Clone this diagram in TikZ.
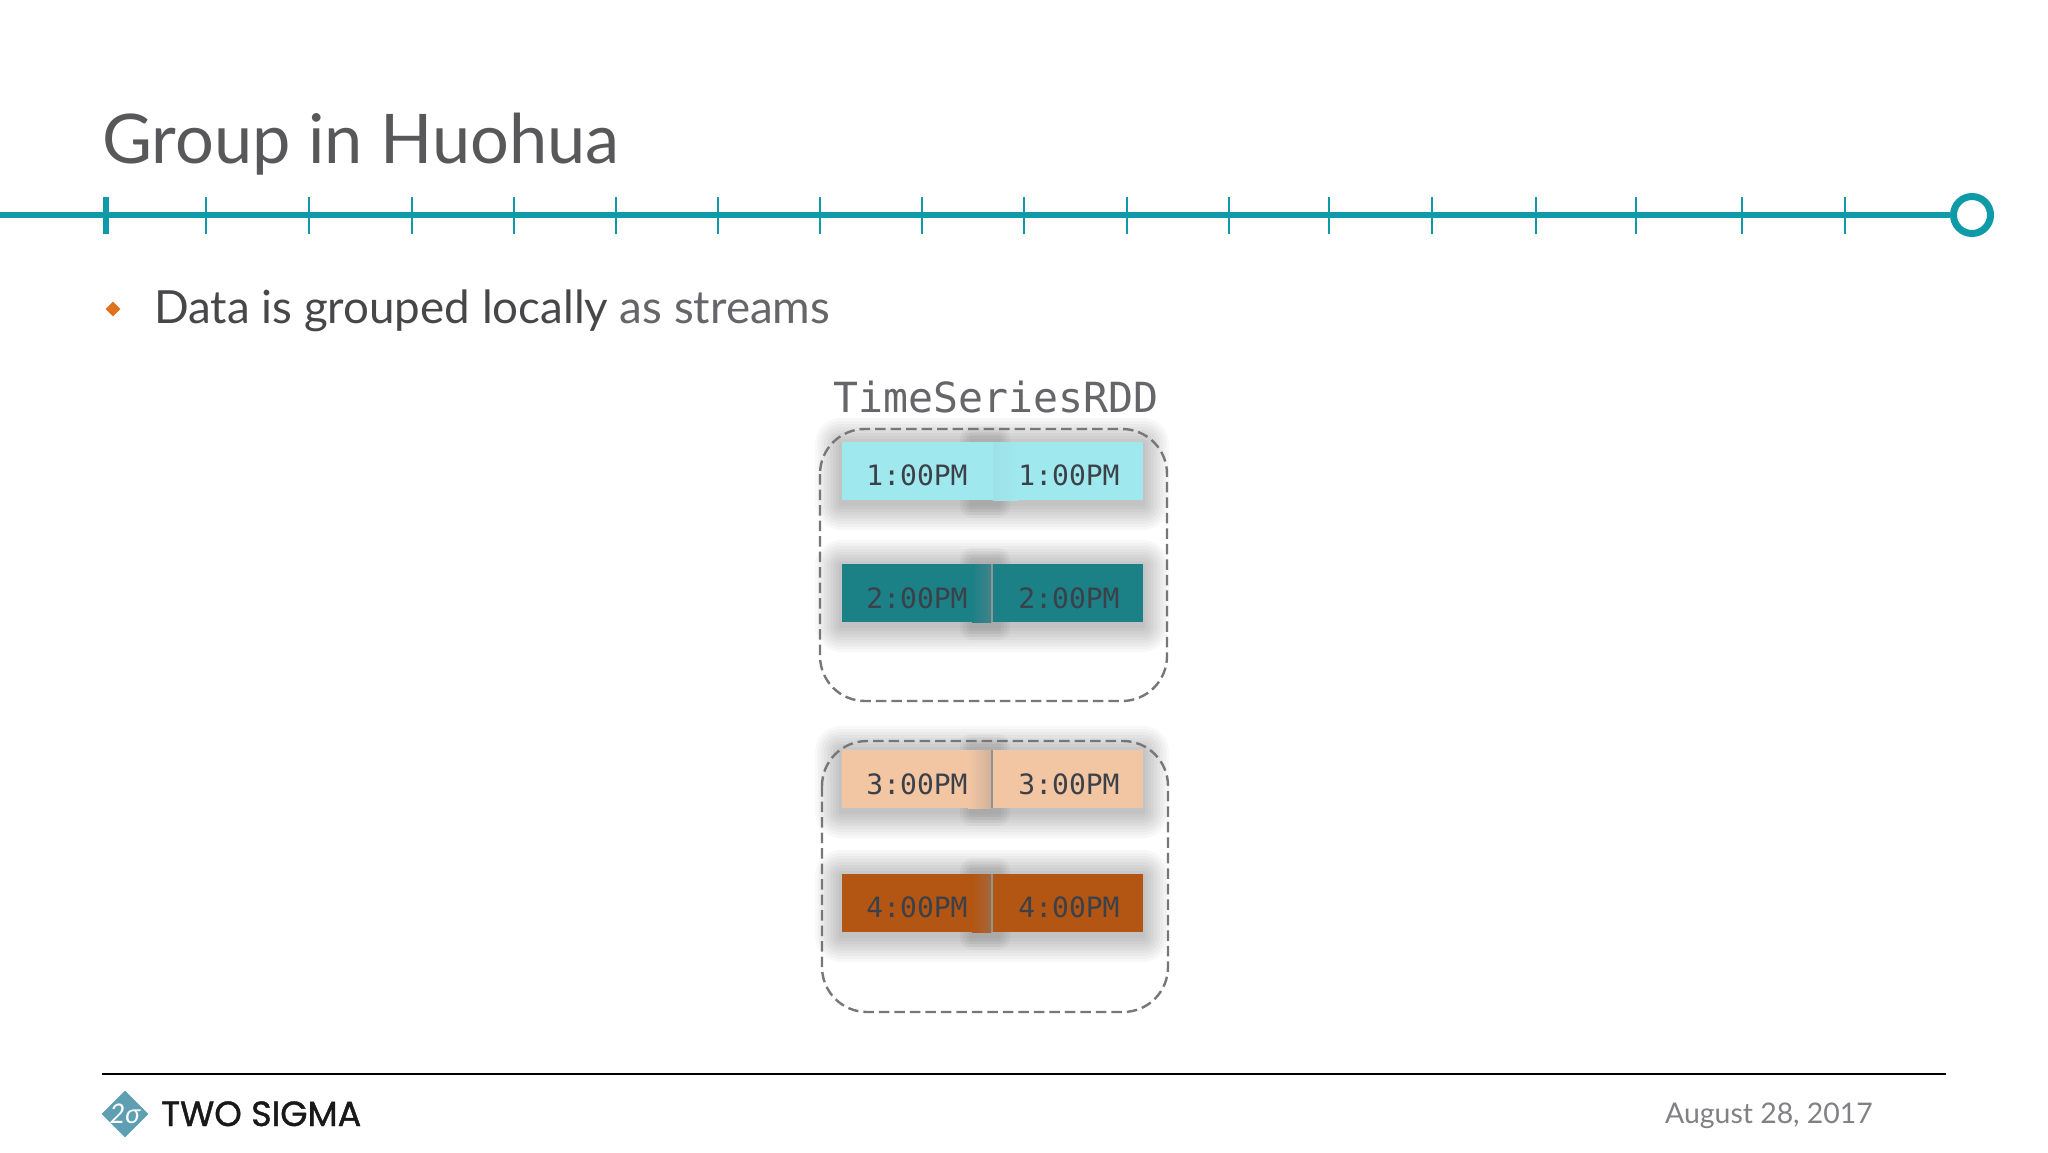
\documentclass[tikz,border=0pt]{standalone}
\usepackage{fontspec}
\setmainfont{Lato}
\setmonofont{DejaVu Sans Mono}
\newfontfamily\brandfont[FakeBold=1.2]{Poppins}
\usetikzlibrary{shapes.geometric}
\definecolor{teal1}{HTML}{0E9AA7}
\definecolor{titlegray}{HTML}{58585A}
\definecolor{bodygray}{HTML}{47474A}
\definecolor{lightgray1}{HTML}{65656A}
\definecolor{dategray}{HTML}{808085}
\definecolor{dashgray}{HTML}{77777A}
\definecolor{shadegray}{HTML}{8A8A8A}
\definecolor{gapgray}{HTML}{8F9496}
\definecolor{cA}{HTML}{9FE8EE}
\definecolor{cB}{HTML}{1C8087}
\definecolor{cC}{HTML}{F3C6A3}
\definecolor{cD}{HTML}{B35613}
\definecolor{monotext}{HTML}{3C4048}
\definecolor{orange1}{HTML}{E0711D}
\definecolor{logoblue}{HTML}{5E9FB2}
\tikzset{
 x=1pt,y=-1pt,
 tick/.style={draw=teal1,line width=1.6pt},
 dashbox/.style={draw=dashgray,line width=2.4pt,dash pattern=on 10.5pt off 5pt,rounded corners=45pt},
 cell/.style={minimum width=0pt,inner sep=0pt,font=\ttfamily\fontsize{28}{28}\selectfont,text=monotext},
 plain/.style={inner sep=0pt,anchor=base west}
}
% blurred shadow: stacked translucent rectangles
\newcommand{\softshadow}[4]{%
 \foreach \g in {26,23,20,17,14,11,8,5,2}{
  \fill[black,opacity=0.027,rounded corners=\g pt] (#1-\g-1,#2-\g+2) rectangle (#3+\g,#4+\g+4);
 }}
\newcommand{\softcolumn}[2]{%
 \foreach \g in {12,9,6,3}{
  \fill[black,opacity=0.03,rounded corners=\g pt] (972-\g,#1-\g-4) rectangle (998+\g,#2+\g+6);
 }}
% y0, y1, colour
\newcommand{\cellpair}[3]{%
 \softshadow{842}{#1}{1143}{#2}
 \softcolumn{#1}{#2}
 \fill[#3] (842,#1) rectangle (991,#2);
 \fill[#3] (993,#1) rectangle (1143,#2);
}
\begin{document}
\begin{tikzpicture}
\useasboundingbox (0,0) rectangle (2048,1152);
\fill[white] (0,0) rectangle (2048,1152);
% title and rule
\node[plain,text=titlegray,font=\fontsize{68.5}{68.5}\selectfont] (title) at (102,163) {Group in Huohua};
\coordinate (linestart) at (0,215);
\node[circle,draw=teal1,line width=7pt,fill=white,minimum size=37pt,inner sep=0pt] (endc) at (1972,215) {};
\draw[teal1,line width=6pt] (linestart) -- (endc.west);
\draw[teal1,line width=6.5pt] (106,197) -- (106,234);
\foreach \t in {206,309,412,514,616,718,820,922,1024,1127,1229,1329,1432,1536,1636,1742,1845}{
 \draw[tick] (\t,197) -- (\t,234);
}
% bullet
\node[diamond,fill=orange1,minimum size=15pt,inner sep=0pt] (bullet) at (113,309) {};
\node[plain,font=\fontsize{45.7}{45.7}\selectfont] (bodytext) at (154,323) {\textcolor{bodygray}{Data is grouped locally} \textcolor{lightgray1}{as streams}};
% group label
\node[inner sep=0pt,anchor=base,font=\ttfamily\fontsize{41.5}{41.5}\selectfont,text=lightgray1] (rddlabel) at (996,412) {TimeSeriesRDD};
% cells
\cellpair{442}{500}{cA}
\cellpair{564}{622}{cB}
\cellpair{750}{808}{cC}
\cellpair{874}{932}{cD}
% neighbour's shadow falling across each pair
\fill[cA] (991,442) rectangle (993,500);
\shade[left color=cA!93!shadegray,right color=cA] (993,442) rectangle (1018,500);
\shade[left color=cB,right color=cB!68!shadegray] (972,564) rectangle (991,622);
\shade[left color=cC,right color=cC!68!shadegray] (968,750) rectangle (991,808);
\shade[left color=cD,right color=cD!68!shadegray] (972,874) rectangle (991,932);
\fill[gapgray] (991,564) rectangle (993,622);
\fill[gapgray] (991,750) rectangle (993,808);
\fill[gapgray] (991,874) rectangle (993,932);
% labels
\node[cell,anchor=base] (al) at (917,485) {1:00PM};
\node[cell,anchor=base] (ar) at (1069,485) {1:00PM};
\node[cell,anchor=base] (bl) at (917,608) {2:00PM};
\node[cell,anchor=base] (br) at (1069,608) {2:00PM};
\node[cell,anchor=base] (cl) at (917,794) {3:00PM};
\node[cell,anchor=base] (cr) at (1069,794) {3:00PM};
\node[cell,anchor=base] (dl) at (917,917) {4:00PM};
\node[cell,anchor=base] (dr) at (1069,917) {4:00PM};
% dashed groups
\draw[dashbox] (820,429) rectangle (1167,701);
\draw[dashbox] (822,741) rectangle (1168,1012);
% footer
\coordinate (fl) at (102,1074);
\coordinate (fr) at (1946,1074);
\draw[black,line width=2.6pt] (fl) -- (fr);
\node[diamond,fill=logoblue,minimum size=47pt,inner sep=0pt] (logo) at (125,1114) {};
\node[text=white,inner sep=0pt,font=\itshape\fontsize{27}{27}\selectfont] (sig) at (125,1114) {2σ};
\node[plain,text=black!90,font=\brandfont\fontsize{35}{35}\selectfont] (brand) at (161,1126) {TWO SIGMA};
\node[plain,text=dategray,font=\fontsize{28.4}{28.4}\selectfont] (date) at (1665,1123) {August 28, 2017};
\end{tikzpicture}
\end{document}
